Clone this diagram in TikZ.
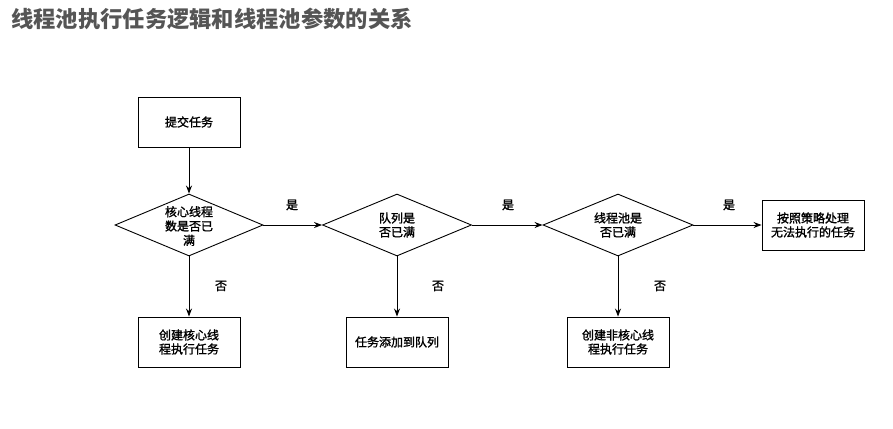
\documentclass[tikz,border=0pt]{standalone}
\usepackage{fontspec}
\newfontfamily\cjk{Noto Sans CJK SC}
\newfontfamily\cjkb{Noto Sans CJK SC}[FakeBold=1.5]
\usetikzlibrary{shapes.geometric,arrows.meta}
\definecolor{titlegray}{HTML}{555555}
\tikzset{
  base/.style={draw=black, line width=0.9pt, align=center, inner sep=0pt,
    font=\cjkb\fontsize{12}{14}\selectfont},
  procbox/.style={base, rectangle, minimum width=102pt, minimum height=50pt},
  decision/.style={base, diamond, minimum width=148pt, minimum height=62pt, aspect=2.4},
  conn/.style={draw=black, line width=0.9pt, -{Stealth[length=8pt,width=6pt]}},
  lbl/.style={font=\cjkb\fontsize{12}{14}\selectfont, inner sep=0pt},
}
\begin{document}
\begin{tikzpicture}[x=1pt,y=-1pt]
\useasboundingbox (0,0) rectangle (893,428);
\node[anchor=west, text=titlegray, inner sep=0pt, font=\cjk\bfseries\fontsize{22.3}{25}\selectfont] (title) at (11,19) {线程池执行任务逻辑和线程池参数的关系};

\node[procbox] (submit) at (189,122) {提交任务};
\node[decision, minimum width=148pt, minimum height=62pt] (d1) at (189,225) {};
\node[lbl, align=center, font=\cjkb\fontsize{12}{14.3}\selectfont] (d1t) at (189,226) {核心线程\\数是否已\\满};
\node[decision, minimum width=149pt, minimum height=62pt] (d2) at (397,225) {队列是\\否已满};
\node[decision, minimum width=150pt, minimum height=62pt] (d3) at (618,225) {线程池是\\否已满};
\node[procbox] (reject) at (813,225) {按照策略处理\\无法执行的任务};

\node[procbox] (core) at (189,342) {创建核心线\\程执行任务};
\node[procbox] (queue) at (397,342) {任务添加到队列};
\node[procbox] (noncore) at (618,342) {创建非核心线\\程执行任务};

\draw[conn] (submit.south) -- (d1.north);
\draw[conn] (d1.east) -- (d2.west);
\draw[conn] (d2.east) -- (d3.west);
\draw[conn] (d3.east) -- (reject.west);
\draw[conn] (d1.south) -- (core.north);
\draw[conn] (d2.south) -- (queue.north);
\draw[conn] (d3.south) -- (noncore.north);

\node[lbl] (y1) at (292,205) {是};
\node[lbl] (y2) at (508,205) {是};
\node[lbl] (y3) at (729,205) {是};
\node[lbl] (n1) at (221,286) {否};
\node[lbl] (n2) at (438,286) {否};
\node[lbl] (n3) at (660,286) {否};
\end{tikzpicture}
\end{document}
